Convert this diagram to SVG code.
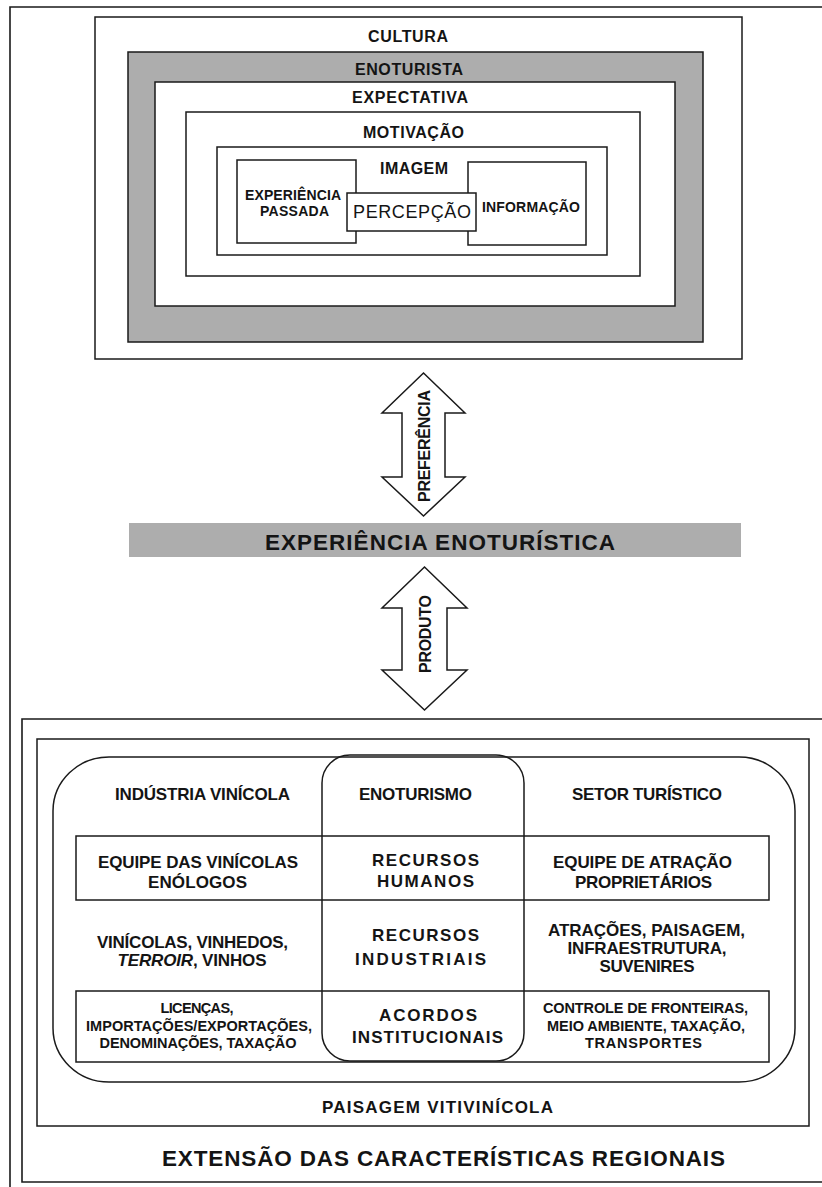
<svg xmlns="http://www.w3.org/2000/svg" width="822" height="1187" viewBox="0 0 822 1187">
<style>
  .bx { fill: none; stroke: #1a1a1a; stroke-width: 1.5; }
  .wb { fill: #ffffff; stroke: #1a1a1a; stroke-width: 1.5; }
  .gray { fill: #adadad; stroke: #1a1a1a; stroke-width: 1.5; }
  .ln { fill: none; stroke: #1a1a1a; stroke-width: 1.6; }
  text { font-family: "Liberation Sans", Arial, sans-serif; font-weight: bold; fill: #141414; text-anchor: middle; }
  .f13 { font-size: 14px; }
  .f14 { font-size: 14.5px; }
  .f15 { font-size: 16px; }
  .f16 { font-size: 17px; }
  .f21 { font-size: 22.5px; }
  .reg { font-weight: normal; font-size: 18px; }
  .arrow { fill: #ffffff; stroke: #1a1a1a; stroke-width: 1.5; stroke-linejoin: miter; }
</style>
<rect width="822" height="1187" fill="#ffffff"/>
<g id="page-frame">
  <path class="ln" d="M822,7 H10 V1187"/>
</g>
<g id="top-block">
  <g id="cultura">
    <rect class="wb" x="95" y="17" width="647" height="342"/>
    <text class="f15" x="408" y="42" textLength="80">CULTURA</text>
  </g>
  <g id="enoturista">
    <rect class="gray" x="128" y="52" width="575" height="290"/>
    <text class="f15" x="409" y="75" textLength="108">ENOTURISTA</text>
  </g>
  <g id="expectativa">
    <rect class="wb" x="155" y="82" width="520" height="224"/>
    <text class="f15" x="410" y="103" textLength="116">EXPECTATIVA</text>
  </g>
  <g id="motivacao">
    <rect class="wb" x="186" y="112" width="454" height="164"/>
    <text class="f15" x="413.5" y="138" textLength="101">MOTIVAÇÃO</text>
  </g>
  <g id="imagem">
    <rect class="wb" x="217" y="147" width="390" height="108"/>
    <text class="f15" x="414" y="174" textLength="68">IMAGEM</text>
  </g>
  <g id="experiencia-passada">
    <rect class="wb" x="237" y="160" width="119" height="83"/>
    <text class="f13" x="293" y="200" textLength="96">EXPERIÊNCIA</text>
    <text class="f13" x="294.5" y="216" textLength="69">PASSADA</text>
  </g>
  <g id="informacao">
    <rect class="wb" x="468" y="162" width="118" height="83"/>
    <text class="f13" x="531" y="211.5" textLength="98">INFORMAÇÃO</text>
  </g>
  <g id="percepcao">
    <rect class="wb" x="347" y="193" width="129" height="38"/>
    <text class="reg" x="412" y="218" textLength="118">PERCEPÇÃO</text>
  </g>
</g>
<g id="experiencia-enoturistica">
  <rect x="129" y="523" width="612" height="34" fill="#adadad"/>
  <text class="f21" x="440" y="549.5" textLength="350">EXPERIÊNCIA ENOTURÍSTICA</text>
</g>
<g id="connectors">
  <g id="arrow-preferencia">
    <polygon class="arrow" points="423.5,373 465,413 445,413 445,477 465,477 423.5,516 382,477 402,477 402,413 382,413"/>
    <text class="f15" transform="translate(429.5,446) rotate(-90)" x="0" y="0" textLength="112">PREFERÊNCIA</text>
  </g>
  <g id="arrow-produto">
    <polygon class="arrow" points="424.5,567 467,608 447,608 447,670 467,670 424.5,710 382,670 402,670 402,608 382,608"/>
    <text class="f15" transform="translate(430.5,634) rotate(-90)" x="0" y="0" textLength="78">PRODUTO</text>
  </g>
</g>
<g id="bottom-block">
  <g id="extensao">
    <path class="ln" d="M822,719 H22 V1182 H822"/>
    <text class="f21" x="443.5" y="1165.5" textLength="563">EXTENSÃO DAS CARACTERÍSTICAS REGIONAIS</text>
  </g>
  <g id="paisagem">
    <rect class="bx" x="37" y="739" width="772" height="387"/>
    <text class="f16" x="437.5" y="1112.5" textLength="231">PAISAGEM VITIVINÍCOLA</text>
  </g>
  <g id="outer-rounded">
    <rect class="bx" x="53" y="757" width="742" height="325" rx="56" ry="54"/>
  </g>
  <g id="row-boxes">
    <rect class="bx" x="76" y="836" width="693" height="64"/>
    <rect class="bx" x="76" y="991" width="693" height="71"/>
  </g>
  <g id="enoturismo">
    <rect class="bx" x="322" y="755" width="202" height="306" rx="28" ry="28"/>
    <text class="f16" x="415.5" y="799.5" textLength="113">ENOTURISMO</text>
  </g>
  <g id="industria-vinicola">
    <text class="f16" x="202.5" y="799.5" textLength="175">INDÚSTRIA VINÍCOLA</text>
  </g>
  <g id="setor-turistico">
    <text class="f16" x="647" y="799.5" textLength="150">SETOR TURÍSTICO</text>
  </g>
  <g id="equipe-vinicolas">
    <text class="f16" x="198" y="867.5" textLength="200">EQUIPE DAS VINÍCOLAS</text>
    <text class="f16" x="197.5" y="887.5" textLength="99">ENÓLOGOS</text>
  </g>
  <g id="recursos-humanos">
    <text class="f16" x="425.5" y="865.5" textLength="107">RECURSOS</text>
    <text class="f16" x="425.5" y="886.5" textLength="97">HUMANOS</text>
  </g>
  <g id="equipe-atracao">
    <text class="f16" x="642.5" y="867.5" textLength="179">EQUIPE DE ATRAÇÃO</text>
    <text class="f16" x="643.5" y="887.5" textLength="137">PROPRIETÁRIOS</text>
  </g>
  <g id="vinicolas-vinhedos">
    <text class="f16" x="192.5" y="947.5" textLength="191">VINÍCOLAS, VINHEDOS,</text>
    <text class="f16" x="192" y="965.5" textLength="149"><tspan font-style="italic">TERROIR</tspan>, VINHOS</text>
  </g>
  <g id="recursos-industriais">
    <text class="f16" x="425.5" y="940.5" textLength="107">RECURSOS</text>
    <text class="f16" x="420.5" y="964.5" textLength="131">INDUSTRIAIS</text>
  </g>
  <g id="atracoes">
    <text class="f16" x="646.5" y="935.5" textLength="197">ATRAÇÕES, PAISAGEM,</text>
    <text class="f16" x="647" y="953.5" textLength="159">INFRAESTRUTURA,</text>
    <text class="f16" x="647" y="971.5" textLength="95">SUVENIRES</text>
  </g>
  <g id="licencas">
    <text class="f14" x="197" y="1012.5" textLength="73">LICENÇAS,</text>
    <text class="f14" x="199" y="1030.5" textLength="226">IMPORTAÇÕES/EXPORTAÇÕES,</text>
    <text class="f14" x="198" y="1047.5" textLength="197">DENOMINAÇÕES, TAXAÇÃO</text>
  </g>
  <g id="acordos-institucionais">
    <text class="f16" x="428" y="1020.5" textLength="98">ACORDOS</text>
    <text class="f16" x="427.5" y="1042.5" textLength="151">INSTITUCIONAIS</text>
  </g>
  <g id="controle-fronteiras">
    <text class="f14" x="645.5" y="1012.5" textLength="205">CONTROLE DE FRONTEIRAS,</text>
    <text class="f14" x="646" y="1030.5" textLength="198">MEIO AMBIENTE, TAXAÇÃO,</text>
    <text class="f14" x="643.5" y="1047.5" textLength="117">TRANSPORTES</text>
  </g>
</g>
</svg>
